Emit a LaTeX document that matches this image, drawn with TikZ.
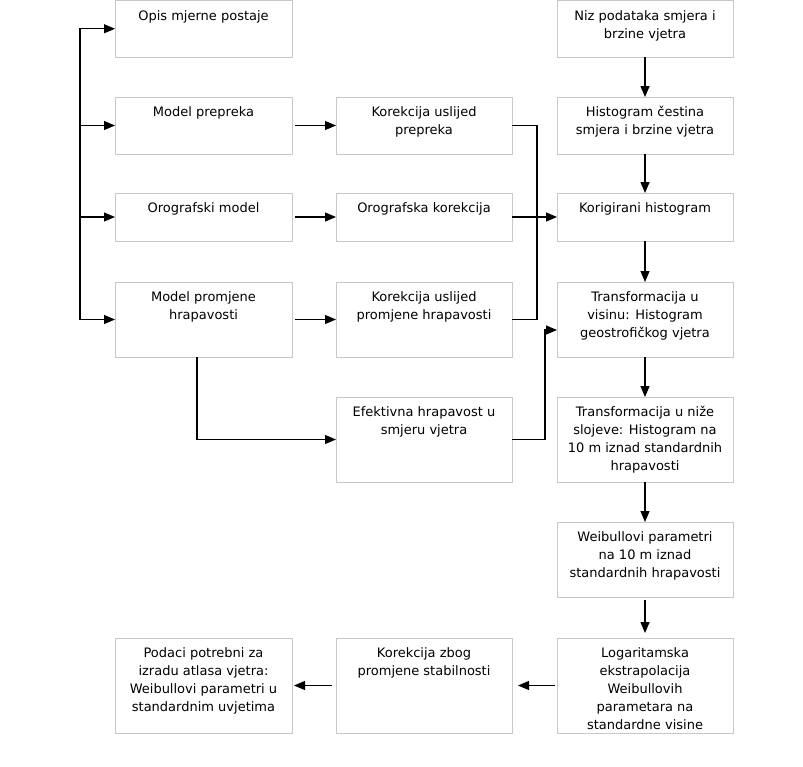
\documentclass[tikz,border=0pt]{standalone}
\usepackage{fontspec}
\setmainfont{DejaVu Sans}
\usetikzlibrary{arrows.meta}
\definecolor{boxgray}{RGB}{200,200,200}
\tikzset{
  box/.style={draw=boxgray, line width=1pt, rectangle, inner sep=0pt, outer sep=0pt},
  txt/.style={anchor=north, align=center, inner sep=0pt, font=\fontsize{13}{18}\selectfont},
  arr/.style={line width=1.2pt, -{Triangle[length=11pt,width=9pt]}},
  ln/.style={line width=1.2pt, line cap=rect},
}
\newcommand\mkbox[6]{%
  \node[box, minimum width={#4pt-#2pt}, minimum height={#5pt-#3pt}] (#1) at ({(#2+#4)/2},{(#3+#5)/2}) {};
  \node[txt] (#1t) at ([yshift=-7.5pt]#1.north) {\rule{0pt}{12pt}#6};
}
\begin{document}
\begin{tikzpicture}[x=1pt,y=-1pt]
\useasboundingbox[fill=white] (0,0) rectangle (803,766);
% column 1
\mkbox{opis}{115}{0.5}{292}{57}{Opis mjerne postaje}
\mkbox{mp}{115}{97}{292}{154}{Model prepreka}
\mkbox{om}{115}{193}{292}{241}{Orografski model}
\mkbox{mph}{115}{282}{292}{357}{Model promjene\\hrapavosti}
\mkbox{pod}{115}{638}{292}{733}{Podaci potrebni za\\izradu atlasa vjetra:\\Weibullovi parametri u\\standardnim uvjetima}
% column 2
\mkbox{kp}{336}{97}{512}{154}{Korekcija uslijed\\prepreka}
\mkbox{ok}{336}{193}{512}{241}{Orografska korekcija}
\mkbox{kph}{336}{282}{512}{357}{Korekcija uslijed\\promjene hrapavosti}
\mkbox{ef}{336}{397}{512}{482}{Efektivna hrapavost u\\smjeru vjetra}
\mkbox{kzs}{336}{638}{512}{733}{Korekcija zbog\\promjene stabilnosti}
% column 3
\mkbox{niz}{557}{0.5}{733}{57}{Niz podataka smjera i\\brzine vjetra}
\mkbox{hist}{557}{97}{733}{154}{Histogram čestina\\smjera i brzine vjetra}
\mkbox{kor}{557}{193}{733}{241}{Korigirani histogram}
\mkbox{tv}{557}{282}{733}{357}{Transformacija u\\visinu: Histogram\\geostrofičkog vjetra}
\mkbox{tn}{557}{397}{733}{482}{Transformacija u niže\\slojeve: Histogram na\\10 m iznad standardnih\\hrapavosti}
\mkbox{wb}{557}{522}{733}{597}{Weibullovi parametri\\na 10 m iznad\\standardnih hrapavosti}
\mkbox{log}{557}{638}{733}{733}{Logaritamska\\ekstrapolacija\\Weibullovih\\parametara na\\standardne visine}
% left bus
\coordinate (bt) at (opis.west -| 80,0);
\coordinate (bb) at (mph.west -| 80,0);
\draw[ln] (bt) -- (bb);
\draw[arr] (bt) -- (opis.west);
\draw[arr] (mp.west -| bt) -- (mp.west);
\draw[arr] (om.west -| bt) -- (om.west);
\draw[arr] (bb) -- (mph.west);
% column 1 -> column 2
\draw[arr, shorten <=3pt] (mp.east) -- (kp.west);
\draw[arr, shorten <=3pt] (om.east) -- (ok.west);
\draw[arr, shorten <=3pt] (mph.east) -- (kph.west);
\draw[arr] ([xshift=-6.5pt]mph.south) |- (ef.west);
% corrections -> corrected histogram
\coordinate (cb) at (537,0);
\draw[line width=1.2pt] (kp.east) -| (kph.east -| cb) -- (kph.east);
\draw[arr] (ok.east) -- (kor.west);
\coordinate (eb) at (545,330);
\draw[arr] (ef.east) -| (eb) -- (eb -| tv.west);
% column 3 chain
\draw[arr] (niz.south) -- (hist.north);
\draw[arr] (hist.south) -- (kor.north);
\draw[arr] (kor.south) -- (tv.north);
\draw[arr] (tv.south) -- (tn.north);
\draw[arr] (tn.south) -- (wb.north);
\draw[arr, shorten <=3pt, shorten >=5pt] (wb.south) -- (log.north);
% bottom row
\draw[arr, shorten <=2pt, shorten >=6pt] (log.west) -- (kzs.east);
\draw[arr, shorten <=4pt, shorten >=2pt] (kzs.west) -- (pod.east);
\end{tikzpicture}
\end{document}
